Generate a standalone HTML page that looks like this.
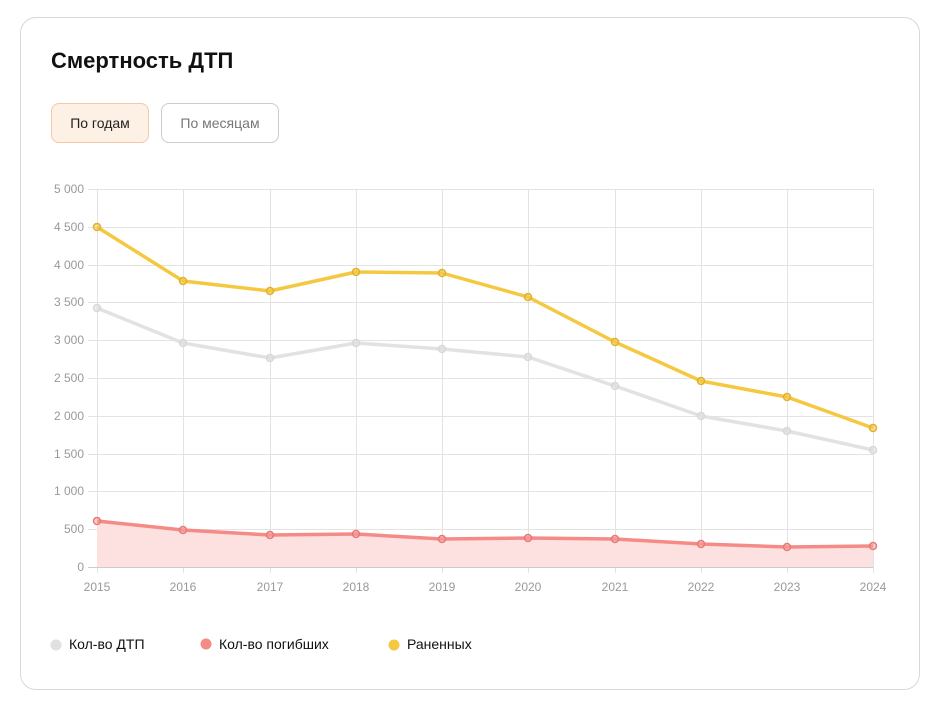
<!DOCTYPE html>
<html><head><meta charset="utf-8"><style>
body{margin:0;background:#fff;font-family:"Liberation Sans",sans-serif;}
.card{position:absolute;left:20px;top:17px;width:900px;height:673px;border:1px solid #d8d8d8;border-radius:16px;box-sizing:border-box;}
h1{position:absolute;left:51px;top:48px;margin:0;font-size:22px;font-weight:bold;color:#111;}
.b{position:absolute;top:103px;height:40px;box-sizing:border-box;border-radius:8px;font-size:14px;line-height:38px;text-align:center;}
</style></head><body>
<div class="card"></div>
<h1>Смертность ДТП</h1>
<div class="b" style="left:51px;width:98px;background:#fdf0e4;border:1px solid #f3c9a8;color:#222">По годам</div>
<div class="b" style="left:161px;width:118px;border:1px solid #ccc;color:#777">По месяцам</div>
<svg width="935" height="704" style="position:absolute;left:0;top:0" font-family="Liberation Sans, sans-serif">
<g stroke="#e3e3e3" stroke-width="1">
<line x1="88" x2="873" y1="189.5" y2="189.5"/><line x1="88" x2="873" y1="227.5" y2="227.5"/><line x1="88" x2="873" y1="265.5" y2="265.5"/><line x1="88" x2="873" y1="302.5" y2="302.5"/><line x1="88" x2="873" y1="340.5" y2="340.5"/><line x1="88" x2="873" y1="378.5" y2="378.5"/><line x1="88" x2="873" y1="416.5" y2="416.5"/><line x1="88" x2="873" y1="454.5" y2="454.5"/><line x1="88" x2="873" y1="491.5" y2="491.5"/><line x1="88" x2="873" y1="529.5" y2="529.5"/>
<line x1="97.5" x2="97.5" y1="189" y2="573"/><line x1="183.5" x2="183.5" y1="189" y2="573"/><line x1="270.5" x2="270.5" y1="189" y2="573"/><line x1="356.5" x2="356.5" y1="189" y2="573"/><line x1="442.5" x2="442.5" y1="189" y2="573"/><line x1="528.5" x2="528.5" y1="189" y2="573"/><line x1="615.5" x2="615.5" y1="189" y2="573"/><line x1="701.5" x2="701.5" y1="189" y2="573"/><line x1="787.5" x2="787.5" y1="189" y2="573"/><line x1="873.5" x2="873.5" y1="189" y2="573"/>
</g>
<line x1="88" x2="873" y1="567.5" y2="567.5" stroke="#ccc"/>
<g fill="#999" font-size="12" text-anchor="end">
<text x="84" y="193">5 000</text><text x="84" y="231">4 500</text><text x="84" y="269">4 000</text><text x="84" y="306">3 500</text><text x="84" y="344">3 000</text><text x="84" y="382">2 500</text><text x="84" y="420">2 000</text><text x="84" y="458">1 500</text><text x="84" y="495">1 000</text><text x="84" y="533">500</text><text x="84" y="571">0</text>
</g>
<g fill="#999" font-size="12" text-anchor="middle">
<text x="97" y="591">2015</text><text x="183" y="591">2016</text><text x="270" y="591">2017</text><text x="356" y="591">2018</text><text x="442" y="591">2019</text><text x="528" y="591">2020</text><text x="615" y="591">2021</text><text x="701" y="591">2022</text><text x="787" y="591">2023</text><text x="873" y="591">2024</text>
</g>
<polygon fill="#fde0e0" points="97,521 183,530 270,535 356,534 442,539 528,538 615,539 701,544 787,547 873,546 873,567 97,567"/>
<g fill="none" stroke-width="3.5" stroke-linejoin="round">
<polyline stroke="#e2e2e2" points="97,308 183,343 270,358 356,343 442,349 528,357 615,386 701,416 787,431 873,450"/>
<polyline stroke="#f5c842" points="97,227 183,281 270,291 356,272 442,273 528,297 615,342 701,381 787,397 873,428"/>
<polyline stroke="#f58b86" points="97,521 183,530 270,535 356,534 442,539 528,538 615,539 701,544 787,547 873,546"/>
</g>
<g stroke-width="1.5" fill-opacity="0.5">
<g stroke="#d8d8d8" fill="#ddd"><circle cx="97" cy="308" r="3.5"/><circle cx="183" cy="343" r="3.5"/><circle cx="270" cy="358" r="3.5"/><circle cx="356" cy="343" r="3.5"/><circle cx="442" cy="349" r="3.5"/><circle cx="528" cy="357" r="3.5"/><circle cx="615" cy="386" r="3.5"/><circle cx="701" cy="416" r="3.5"/><circle cx="787" cy="431" r="3.5"/><circle cx="873" cy="450" r="3.5"/></g>
<g stroke="#e0b030" fill="#f5c842"><circle cx="97" cy="227" r="3.5"/><circle cx="183" cy="281" r="3.5"/><circle cx="270" cy="291" r="3.5"/><circle cx="356" cy="272" r="3.5"/><circle cx="442" cy="273" r="3.5"/><circle cx="528" cy="297" r="3.5"/><circle cx="615" cy="342" r="3.5"/><circle cx="701" cy="381" r="3.5"/><circle cx="787" cy="397" r="3.5"/><circle cx="873" cy="428" r="3.5"/></g>
<g stroke="#e57a76" fill="#f5a0a0"><circle cx="97" cy="521" r="3.5"/><circle cx="183" cy="530" r="3.5"/><circle cx="270" cy="535" r="3.5"/><circle cx="356" cy="534" r="3.5"/><circle cx="442" cy="539" r="3.5"/><circle cx="528" cy="538" r="3.5"/><circle cx="615" cy="539" r="3.5"/><circle cx="701" cy="544" r="3.5"/><circle cx="787" cy="547" r="3.5"/><circle cx="873" cy="546" r="3.5"/></g>
</g>
<circle cx="56" cy="645" r="5.5" fill="#e0e0e0"/><text x="69" y="649" font-size="14" fill="#111">Кол-во ДТП</text>
<circle cx="206" cy="644" r="5.5" fill="#f58b86"/><text x="219" y="649" font-size="14" fill="#111">Кол-во погибших</text>
<circle cx="394" cy="645" r="5.5" fill="#f5c842"/><text x="407" y="649" font-size="14" fill="#111">Раненных</text>
</svg>
</body></html>
